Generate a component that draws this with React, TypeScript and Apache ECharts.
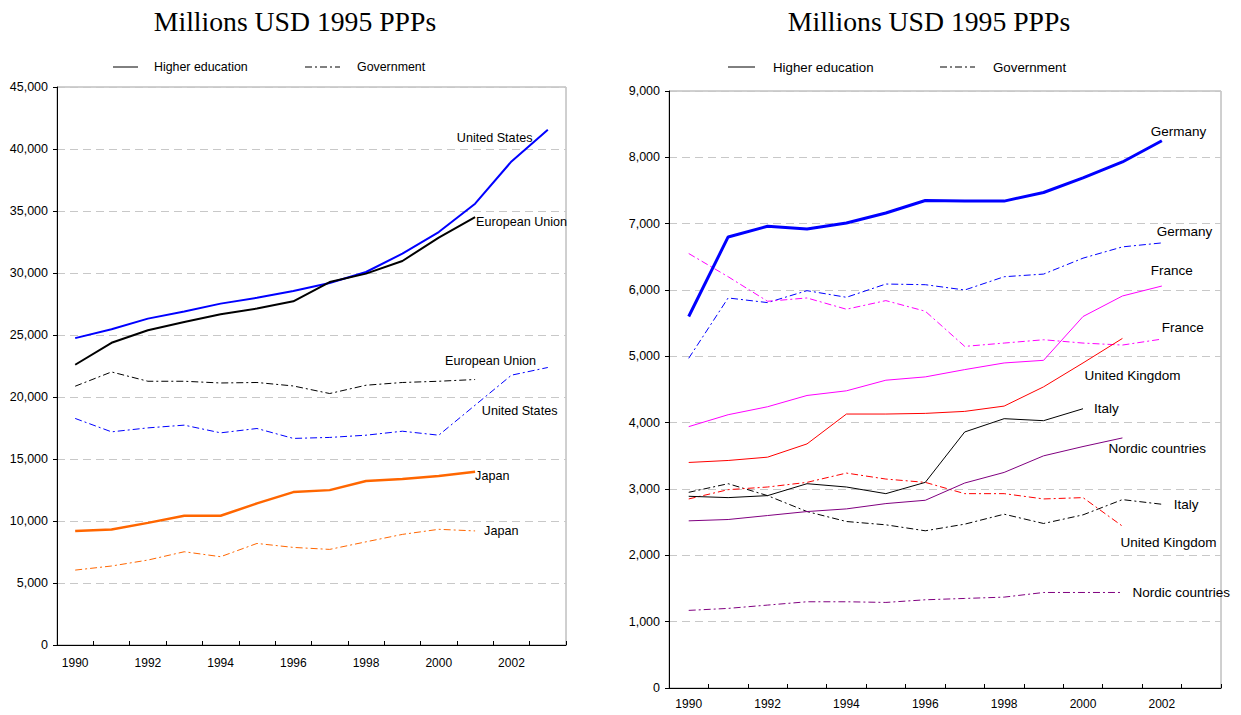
import React, { useEffect, useRef } from "react";
import * as echarts from "echarts";

const years = ["1990","1991","1992","1993","1994","1995","1996","1997","1998","1999","2000","2001","2002","2003"];

// Left chart (Millions USD 1995 PPPs)
const usHE = [24750,25460,26320,26900,27530,28000,28550,29200,30080,31560,33300,35590,39000,41560];
const euHE = [22600,24370,25380,26050,26670,27130,27720,29270,29950,30970,32850,34510];
const jpHE = [9190,9320,9850,10420,10420,11420,12330,12490,13230,13380,13620,13970];
const usGov = [18270,17190,17510,17730,17110,17460,16660,16740,16920,17240,16920,19340,21760,22380];
const euGov = [20870,22020,21270,21270,21130,21170,20890,20280,20950,21170,21270,21410];
const jpGov = [6040,6370,6850,7520,7120,8190,7870,7710,8320,8920,9330,9200];

// Right chart
const deHE = [5600,6800,6960,6920,7010,7160,7350,7340,7340,7470,7690,7930,8250];
const deGov = [4970,5880,5810,5990,5890,6090,6080,6000,6200,6240,6480,6650,6710];
const frHE = [3940,4120,4240,4410,4480,4640,4690,4800,4900,4940,5600,5910,6060];
const frGov = [6550,6200,5830,5880,5710,5840,5680,5150,5200,5250,5200,5170,5260];
const ukHE = [3400,3430,3480,3680,4130,4130,4140,4170,4250,4540,4900,5270];
const ukGov = [2850,2990,3030,3100,3240,3150,3100,2930,2930,2850,2870,2440];
const itHE = [2890,2870,2900,3080,3030,2930,3100,3860,4060,4030,4210];
const itGov = [2950,3080,2900,2660,2510,2460,2370,2470,2620,2480,2610,2840,2770];
const noHE = [2520,2540,2600,2660,2700,2780,2830,3090,3250,3500,3640,3770];
const noGov = [1170,1200,1250,1300,1300,1290,1330,1350,1370,1440,1440,1440];

const title = "Millions USD 1995 PPPs";
const legendHE = "Higher education";
const legendGov = "Government";

const SANS = "'Liberation Sans', Arial, sans-serif";
const SERIF = "'Liberation Serif', 'Times New Roman', serif";
const DASHDOT = [7, 3, 2, 3];

function mkSeries(name: string, data: number[], idx: number, color: string, width: number, gov: boolean, off: [number, number]) {
  return {
    type: "line",
    name,
    data,
    xAxisIndex: idx,
    yAxisIndex: idx,
    showSymbol: false,
    symbol: "none",
    smooth: false,
    lineStyle: { color, width, type: gov ? DASHDOT : "solid" },
    itemStyle: { color },
    endLabel: {
      show: true,
      formatter: name,
      color: "#000",
      fontSize: idx === 0 ? 12.6 : 13.5,
      fontFamily: SANS,
      distance: 5,
      align: "left",
      verticalAlign: "middle",
      offset: off,
    },
    emphasis: { disabled: true },
    z: gov ? 3 : 4,
  };
}

function legendGraphics(x1: number, x2: number, tx: number, gx1: number, gx2: number, gtx: number, y: number, fs: number) {
  return [
    { type: "line", shape: { x1, y1: y, x2, y2: y }, style: { stroke: "#000", lineWidth: 1 } },
    { type: "text", x: tx, y, style: { text: legendHE, fill: "#000", font: `${fs}px ${SANS}`, textVerticalAlign: "middle" } },
    { type: "line", shape: { x1: gx1, y1: y, x2: gx2, y2: y }, style: { stroke: "#000", lineWidth: 1, lineDash: DASHDOT } },
    { type: "text", x: gtx, y, style: { text: legendGov, fill: "#000", font: `${fs}px ${SANS}`, textVerticalAlign: "middle" } },
  ];
}

function xAx(idx: number, margin: number) {
  return {
    type: "category",
    gridIndex: idx,
    data: years,
    boundaryGap: true,
    axisLine: { show: true, lineStyle: { color: "#000", width: 1 } },
    axisTick: { show: true, inside: true, length: 4, interval: 0, lineStyle: { color: "#000" } },
    axisLabel: { interval: 1, color: "#000", fontSize: 12, fontFamily: SANS, margin },
    splitLine: { show: false },
  };
}

function yAx(idx: number, max: number, interval: number) {
  return {
    type: "value",
    gridIndex: idx,
    min: 0,
    max,
    interval,
    axisLine: { show: true, lineStyle: { color: "#000", width: 1 } },
    axisTick: { show: true, inside: false, length: 4, lineStyle: { color: "#000" } },
    axisLabel: {
      color: "#000",
      fontSize: 12.5,
      fontFamily: SANS,
      margin: 9,
      formatter: (v: number) => v.toLocaleString("en-US"),
    },
    splitLine: { show: true, lineStyle: { color: "#c8c8c8", width: 1, type: [8, 5] } },
  };
}

export default function App() {
  const ref = useRef<HTMLDivElement>(null);
  useEffect(() => {
    if (!ref.current) return;
    const chart = echarts.init(ref.current, null, { renderer: "svg" });
    chart.setOption({
      animation: false,
      backgroundColor: "#fff",
      title: [
        { text: title, left: 290, top: 2, textAlign: "center", textStyle: { fontFamily: SERIF, fontSize: 27.7, fontWeight: "normal", color: "#000" } },
        { text: title, left: 924, top: 2, textAlign: "center", textStyle: { fontFamily: SERIF, fontSize: 27.7, fontWeight: "normal", color: "#000" } },
      ],
      grid: [
        { left: 57, top: 87, width: 509, height: 558, show: true, borderColor: "#a0a0a0", borderWidth: 1, backgroundColor: "transparent" },
        { left: 669, top: 91, width: 552, height: 597, show: true, borderColor: "#a0a0a0", borderWidth: 1, backgroundColor: "transparent" },
      ],
      xAxis: [xAx(0, 12), xAx(1, 10)],
      yAxis: [yAx(0, 45000, 5000), yAx(1, 9000, 1000)],
      graphic: [
        ...legendGraphics(113, 138, 154, 305, 340, 357, 67, 12.4),
        ...legendGraphics(728, 755, 773, 940, 975, 993, 67, 13.3),
      ],
      series: [
        mkSeries("United States", usHE, 0, "#0000ff", 2, false, [-96, 8]),
        mkSeries("European Union", euHE, 0, "#000000", 2, false, [-4, 5]),
        mkSeries("Japan", jpHE, 0, "#ff6600", 2.5, false, [-5, 4]),
        mkSeries("European Union", euGov, 0, "#000000", 1, true, [-35, -19]),
        mkSeries("United States", usGov, 0, "#0000ff", 1, true, [-71, 44]),
        mkSeries("Japan", jpGov, 0, "#ff6600", 1, true, [4, 0]),

        mkSeries("Germany", deHE, 1, "#0000ff", 3, false, [-16, -9]),
        mkSeries("Germany", deGov, 1, "#0000ff", 1, true, [-10, -11]),
        mkSeries("France", frHE, 1, "#ff00ff", 1, false, [-16, -16]),
        mkSeries("France", frGov, 1, "#ff00ff", 1, true, [-5, -12]),
        mkSeries("United Kingdom", ukHE, 1, "#ff0000", 1, false, [-43, 37]),
        mkSeries("Italy", itHE, 1, "#000000", 1, false, [6, 0]),
        mkSeries("Nordic countries", noHE, 1, "#800080", 1, false, [-19, 11]),
        mkSeries("Italy", itGov, 1, "#000000", 1, true, [7, 0]),
        mkSeries("United Kingdom", ukGov, 1, "#ff0000", 1, true, [-7, 16]),
        mkSeries("Nordic countries", noGov, 1, "#800080", 1, true, [5, 0]),
      ],
    });
    return () => chart.dispose();
  }, []);
  return <div ref={ref} style={{ position: "absolute", left: 0, top: 0, width: 1241, height: 715 }} />;
}
